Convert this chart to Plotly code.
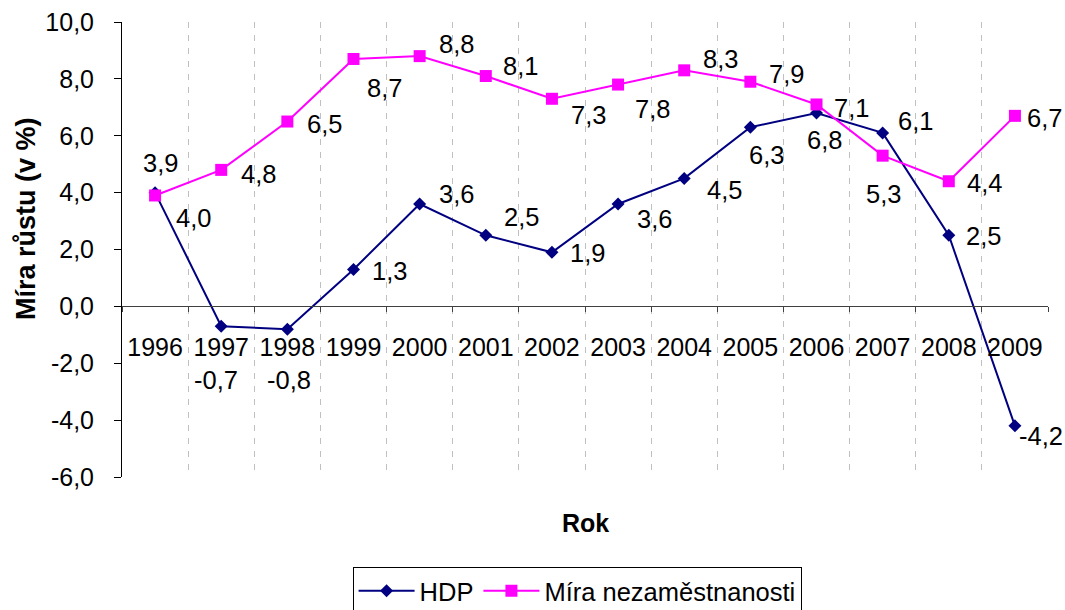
import plotly.graph_objects as go

years = [str(y) for y in range(1996, 2010)]
hdp = [4.0, -0.7, -0.8, 1.3, 3.6, 2.5, 1.9, 3.6, 4.5, 6.3, 6.8, 6.1, 2.5, -4.2]
nezam = [3.9, 4.8, 6.5, 8.7, 8.8, 8.1, 7.3, 7.8, 8.3, 7.9, 7.1, 5.3, 4.4, 6.7]
y_ticks = [-6, -4, -2, 0, 2, 4, 6, 8, 10]

# label offsets in px (dx right, dy down) — styling only
hdp_off = [(38, 25), (-5, 54), (2, 51), (36, 2), (37, -10), (36, -18), (36, 1),
           (36, 15), (40, 12), (16, 28), (8, 27), (33, -12), (35, 1), (26, 10)]
nez_off = [(5, -32), (37, 4), (37, 2), (31, 29), (37, -12), (35, -10), (37, 16),
           (34, 24), (36, -11), (36, -8), (35, 4), (1, 38), (36, 2), (30, 2)]

FONT = "Liberation Sans, Arial, sans-serif"
NAVY = "#000080"
PINK = "#FF00FF"

def fmt(v):
    return f"{v:.1f}".replace(".", ",")

fig = go.Figure()
fig.add_trace(go.Scatter(x=years, y=hdp, name="HDP", mode="lines+markers",
                         line=dict(color=NAVY, width=2),
                         marker=dict(symbol="diamond", size=10, color=NAVY)))
fig.add_trace(go.Scatter(x=years, y=nezam, name="Míra nezaměstnanosti", mode="lines+markers",
                         line=dict(color=PINK, width=2),
                         marker=dict(symbol="square", size=12, color=PINK)))

ann = []
for vals, offs in ((hdp, hdp_off), (nezam, nez_off)):
    for i, (v, (dx, dy)) in enumerate(zip(vals, offs)):
        ann.append(dict(x=i, y=v, xref="x", yref="y", text=fmt(v), showarrow=False,
                        xshift=dx, yshift=-dy, font=dict(size=25.5, color="black", family=FONT)))

ann.append(dict(x=-0.1037, y=0.569, xref="paper", yref="paper", text="<b>Míra růstu (v %)</b>",
                textangle=-90, showarrow=False, xanchor="center", yanchor="middle",
                font=dict(size=27, color="black", family=FONT)))
ann.append(dict(x=0.5, y=-0.101, xref="paper", yref="paper", text="<b>Rok</b>",
                showarrow=False, xanchor="center", yanchor="middle",
                font=dict(size=25, color="black", family=FONT)))

fig.update_layout(
    width=1065, height=610,
    margin=dict(l=122, r=17, t=22, b=133, autoexpand=False),
    paper_bgcolor="white", plot_bgcolor="white",
    separators=", ",
    font=dict(family=FONT, size=25, color="black"),
    showlegend=True,
    legend=dict(orientation="h", x=0.249, y=-0.197, xanchor="left", yanchor="top",
                bordercolor="black", borderwidth=1, bgcolor="white",
                font=dict(size=25.5, color="black", family=FONT),
                itemwidth=56, tracegroupgap=0),
    annotations=ann,
    xaxis=dict(type="category", range=[-0.5, 13.5], anchor="free", position=0.375,
               showline=True, linecolor="#404040", linewidth=1,
               ticks="outside", ticklen=5, tickcolor="#404040", tickson="boundaries",
               showgrid=True, gridcolor="#C0C0C0", griddash="6px,7px", gridwidth=1,
               zeroline=False, tickangle=0,
               tickfont=dict(size=25, color="black", family=FONT),
               ticklabelstandoff=19),
    yaxis=dict(range=[-6, 10], tickmode="array", tickvals=y_ticks,
               ticktext=[fmt(t) for t in y_ticks],
               showline=True, linecolor="black", linewidth=1,
               ticks="outside", ticklen=7, tickcolor="black",
               showgrid=False, zeroline=False,
               tickfont=dict(size=25, color="black", family=FONT),
               ticklabelstandoff=15),
)

fig.write_html("out.html", config={"displayModeBar": False},
               post_script="document.body.style.margin='0';document.body.style.overflow='hidden';")
